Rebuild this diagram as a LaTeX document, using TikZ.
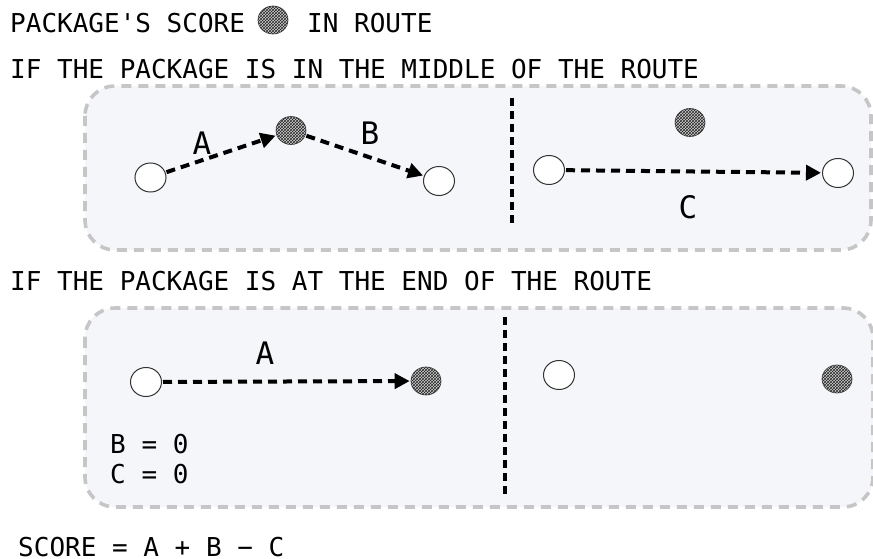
\documentclass[tikz,border=0pt]{standalone}
\usepackage{fontspec}
\setmonofont{DejaVu Sans Mono}
\usetikzlibrary{arrows.meta,patterns,shapes.geometric}
\definecolor{panelfill}{HTML}{F4F6F9}
\definecolor{panelline}{HTML}{C6C6C6}
\tikzset{
  txt/.style={font=\ttfamily\fontsize{26}{30}\selectfont, inner sep=0pt, anchor=base west, text depth=0pt},
  lbl/.style={font=\ttfamily\fontsize{31}{36}\selectfont, inner sep=0pt},
  panel/.style={draw=panelline, fill=panelfill, line width=3.6pt, dash pattern=on 10pt off 7pt, rounded corners=30pt},
  divider/.style={draw=black, line width=3.6pt, dash pattern=on 8pt off 5pt},
  stop/.style={ellipse, draw=black!80, line width=1pt, fill=white, minimum width=31pt, minimum height=29pt, inner sep=0pt},
  pkg/.style={ellipse, draw=black!70, line width=0.7pt, fill=gray!35, minimum width=30pt, minimum height=28pt, inner sep=0pt,
    postaction={pattern=crosshatch, pattern color=black!85}},
  leg/.style={line width=4pt, dash pattern=on 9pt off 6pt, -{Triangle[length=15pt,width=15pt]}, shorten >=1pt, shorten <=1pt},
}
\begin{document}
\begin{tikzpicture}[x=1pt,y=-1pt]
\useasboundingbox (0,0) rectangle (873,559);

% headings
\node[txt] (h1) at (10,33) {PACKAGE'S SCORE};
\node[pkg] (hicon) at (273,20) {};
\node[txt] (h1b) at (307,33) {IN ROUTE};
\node[txt] (h2) at (10,79) {IF THE PACKAGE IS IN THE MIDDLE OF THE ROUTE};
\node[txt] (h3) at (10,290) {IF THE PACKAGE IS AT THE END OF THE ROUTE};
\node[txt] (score) at (18,556) {SCORE = A + B − C};

% panel: package in the middle of the route
\path[panel] (85,86) rectangle (871,250);
\coordinate (d1t) at (512,98);
\coordinate (d1b) at (512,223);
\draw[divider] (d1t) -- (d1b);

\node[stop] (s1) at (150.5,177.5) {};
\node[pkg]  (p1) at (291,130.5) {};
\node[stop] (e1) at (439,181) {};
\draw[leg] (s1) -- (p1);
\draw[leg] (p1) -- (e1);
\node[lbl] (la) at (202,143) {A};
\node[lbl] (lb) at (370,133) {B};

\node[pkg]  (p2) at (690,122.5) {};
\node[stop] (s2) at (549,170) {};
\node[stop] (e2) at (838,173) {};
\draw[leg] (s2) -- (e2);
\node[lbl] (lc) at (688,207) {C};

% panel: package at the end of the route
\path[panel] (85,308) rectangle (873,507);
\coordinate (d2t) at (505,317);
\coordinate (d2b) at (505,497);
\draw[divider] (d2t) -- (d2b);

\node[stop] (s3) at (146,382) {};
\node[pkg]  (p3) at (426,381) {};
\draw[leg] (s3) -- (p3);
\node[lbl] (la2) at (265,353) {A};
\node[txt] (bz) at (110,453) {B = 0};
\node[txt] (cz) at (110,483) {C = 0};

\node[stop] (s4) at (559,375) {};
\node[pkg]  (p4) at (837,379) {};
\end{tikzpicture}
\end{document}
